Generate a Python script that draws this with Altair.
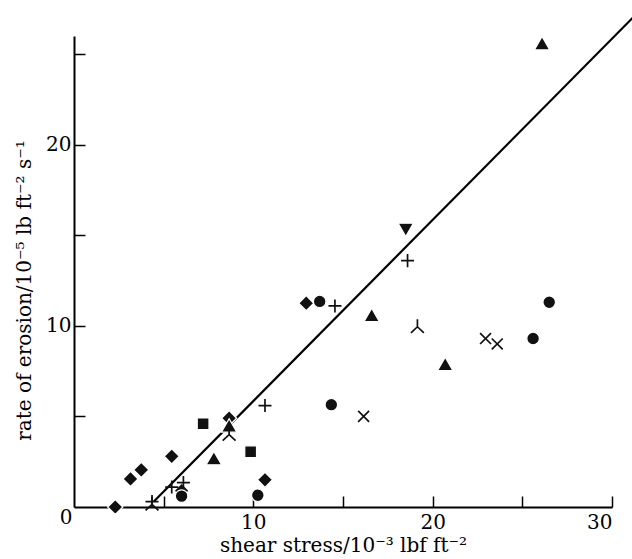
import altair as alt
import pandas as pd

# ---- data ----
diamond_x = [2.3, 3.15, 3.75, 5.45, 6.0, 8.65, 10.65, 12.95]
diamond_y = [0.0, 1.55, 2.05, 2.8, 0.9, 4.9, 1.5, 11.25]

circle_x = [6.0, 10.25, 13.7, 14.35, 25.6, 26.5]
circle_y = [0.6, 0.65, 11.35, 5.65, 9.3, 11.3]

square_x = [7.2, 9.85]
square_y = [4.6, 3.05]

tri_up_x = [7.8, 8.65, 16.6, 20.7, 26.1]
tri_up_y = [2.7, 4.5, 10.6, 7.9, 25.6]

tri_down_x = [18.5]
tri_down_y = [15.3]

plus_x = [4.35, 5.45, 6.1, 10.65, 14.55, 18.6]
plus_y = [0.3, 1.1, 1.35, 5.6, 11.1, 13.6]

cross_x = [16.15, 22.95, 23.6]
cross_y = [5.0, 9.3, 9.0]

invy_x = [4.35, 8.65, 19.15]
invy_y = [0.15, 4.0, 9.95]

fit_x = [4.45, 31.2]
fit_y = [0.3, 27.05]

x_tick_values = [5, 10, 15, 20, 25, 30]
x_label_values = [10, 20, 30]
y_tick_values = [5, 10, 15, 20, 25]
y_label_values = [10, 20]
origin_label = ["0"]

FONT = "DejaVu Serif"
FS = 20

xs = alt.Scale(domain=[0, 30], nice=False, zero=True)
ys = alt.Scale(domain=[0, 26], nice=False, zero=True)

main_x_axis = alt.Axis(
    orient="bottom", values=x_label_values, ticks=False, grid=False,
    domain=True, domainColor="black", domainWidth=1.8, format="d",
    labelFont=FONT, labelFontSize=FS, labelColor="black", labelPadding=5,
    title="shear stress/10⁻³ lbf ft⁻²", titleFont=FONT, titleFontSize=FS,
    titleFontWeight="normal", titleColor="black", titlePadding=3,
)
main_y_axis = alt.Axis(
    orient="left", values=y_label_values, ticks=False, grid=False,
    domain=True, domainColor="black", domainWidth=2, format="d",
    labelFont=FONT, labelFontSize=FS, labelColor="black", labelPadding=3,
    title="rate of erosion/10⁻⁵ lb ft⁻² s⁻¹", titleFont=FONT, titleFontSize=FS,
    titleFontWeight="normal", titleColor="black", titleX=-40, titleY=254,
)
tick_x_axis = alt.Axis(
    orient="bottom", values=x_tick_values, offset=-11, domain=False,
    labels=False, ticks=True, tickSize=11, tickWidth=1.5, tickColor="black",
    grid=False, title=None,
)
tick_y_axis = alt.Axis(
    orient="left", values=y_tick_values, offset=-11, domain=False,
    labels=False, ticks=True, tickSize=11, tickWidth=1.5, tickColor="black",
    grid=False, title=None,
)

line = alt.Chart(pd.DataFrame({"x": fit_x, "y": fit_y})).mark_line(
    color="black", strokeWidth=2.2
).encode(
    x=alt.X("x:Q", scale=xs, axis=main_x_axis),
    y=alt.Y("y:Q", scale=ys, axis=main_y_axis),
)


def pts(xv, yv, shape, size, filled, x_axis=None, y_axis=None):
    df = pd.DataFrame({"x": xv, "y": yv})
    if filled:
        mk = alt.Chart(df).mark_point(
            shape=shape, size=size, filled=True, fill="#111111",
            stroke="white", strokeWidth=1.3, opacity=1)
    else:
        mk = alt.Chart(df).mark_point(
            shape=shape, size=size, filled=False, stroke="#111111",
            strokeWidth=1.7, opacity=1)
    return mk.encode(
        x=alt.X("x:Q", scale=xs, axis=x_axis),
        y=alt.Y("y:Q", scale=ys, axis=y_axis),
    )


layers = [
    line,
    pts(diamond_x, diamond_y, "diamond", 230, True, tick_x_axis, tick_y_axis),
    pts(circle_x, circle_y, "circle", 160, True),
    pts(square_x, square_y, "square", 140, True),
    pts(tri_up_x, tri_up_y, "triangle-up", 240, True),
    pts(tri_down_x, tri_down_y, "triangle-down", 240, True),
    pts(plus_x, plus_y, "M-1,0L1,0M0,-1L0,1", 170, False),
    pts(cross_x, cross_y, "M-1,-1L1,1M-1,1L1,-1", 120, False),
    pts(invy_x, invy_y, "M0,-1L0,0M0,0L-0.85,0.8M0,0L0.85,0.8", 230, False),
]

origin = alt.Chart(pd.DataFrame({"x": [0], "y": [0], "t": origin_label})).mark_text(
    font=FONT, fontSize=FS, color="black", dx=-8, dy=11, align="center",
    baseline="middle"
).encode(
    x=alt.X("x:Q", scale=xs, axis=None),
    y=alt.Y("y:Q", scale=ys, axis=None),
    text="t:N",
)
layers.append(origin)

chart = alt.layer(*layers).resolve_axis(
    x="independent", y="independent"
).properties(
    width=538, height=471,
    autosize=alt.AutoSizeParams(type="none"),
    padding={"left": 74, "top": 36, "right": 20, "bottom": 52},
    background="white",
).configure_view(stroke=None)

chart.save("out.html", embed_options={"renderer": "svg", "actions": False})
